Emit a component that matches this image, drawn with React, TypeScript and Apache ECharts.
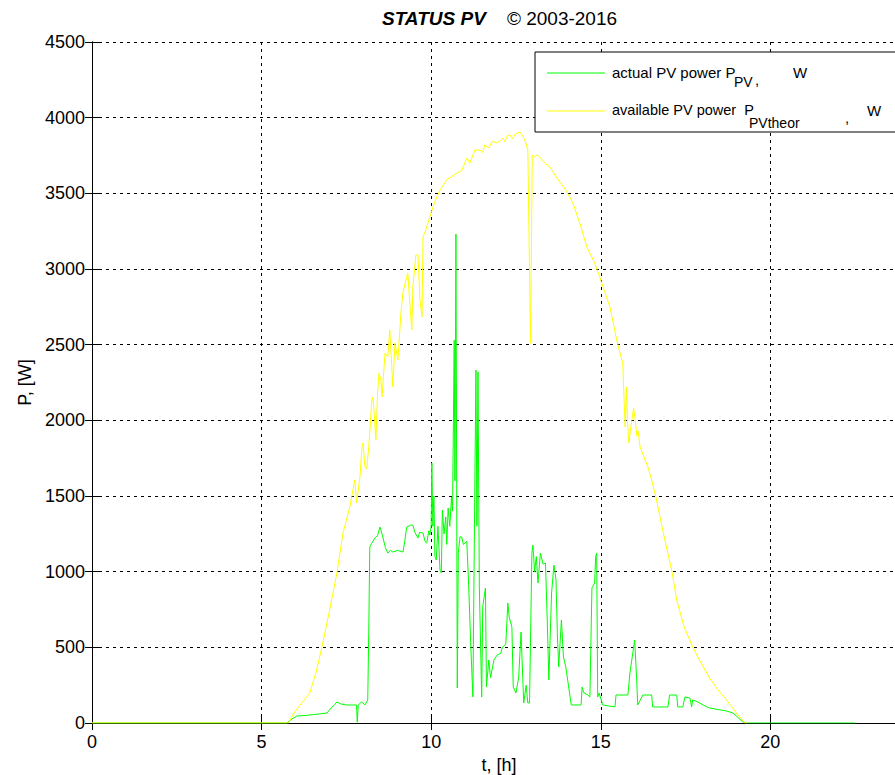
import React, { useEffect, useRef } from "react";
import * as echarts from "echarts";

// ---- data (hours, watts) ----
const availT = [
  0, 5.8, 5.92, 6.1, 6.25, 6.42, 6.6, 6.78, 7.0, 7.22, 7.4, 7.6, 7.75, 7.8, 7.9, 7.96, 7.99, 8.05, 8.1,
  8.16, 8.21, 8.25, 8.28, 8.32, 8.37, 8.42, 8.46, 8.52, 8.55, 8.64, 8.72, 8.78, 8.87, 8.93, 9.02, 9.11,
  9.17, 9.31, 9.4, 9.43, 9.46, 9.55, 9.61, 9.67, 9.73, 9.76, 9.84, 9.96, 10.1, 10.26, 10.46, 10.6,
  10.76, 10.9, 11.05, 11.14, 11.29, 11.44, 11.52, 11.58, 11.7, 11.8, 11.94, 12.05, 12.11, 12.17, 12.25,
  12.32, 12.4, 12.48, 12.55, 12.62, 12.7, 12.78, 12.85, 12.89, 12.93, 12.95, 12.98, 13.05, 13.12, 13.2,
  13.28, 13.35, 13.5, 13.6, 13.65, 13.79, 13.9, 14.0, 14.18, 14.4, 14.59, 14.8, 14.97, 15.1, 15.27,
  15.47, 15.62, 15.65, 15.68, 15.72, 15.76, 15.79, 15.83, 15.87, 15.97, 16.02, 16.06, 16.1, 16.16,
  16.39, 16.5, 16.62, 16.85, 17.1, 17.24, 17.45, 17.71, 17.95, 18.21, 18.45, 18.71, 19.0, 19.25, 19.3,
];
const availP = [
  0, 0, 53, 110, 150, 198, 330, 502, 740, 991, 1255, 1427, 1606, 1454, 1625, 1824, 1850, 1692, 1680,
  1824, 1989, 2134, 2154, 2048, 1870, 2180, 2313, 2267, 2154, 2445, 2420, 2597, 2220, 2511, 2399, 2716,
  2848, 2974, 2683, 2597, 2881, 3093, 3093, 2795, 2683, 3212, 3258, 3344, 3440, 3522, 3590, 3610,
  3634, 3650, 3733, 3700, 3786, 3786, 3770, 3820, 3800, 3845, 3833, 3850, 3866, 3842, 3880,
  3886, 3860, 3892, 3899, 3905, 3880, 3840, 3786, 3150, 2510, 3000, 3753, 3740, 3755, 3740,
  3720, 3700, 3674, 3640, 3620, 3575, 3545, 3510, 3436, 3290, 3145, 3050, 2947, 2860, 2749,
  2531, 2400, 2379, 2181, 1956, 2220, 1980, 1850, 1930, 2081, 2000, 1900, 1930, 1824,
  1692, 1606, 1500, 1250, 1000, 813, 640, 502, 400, 297, 220, 152, 66, 0, 0,
];

const actualT = [
  0, 5.75, 5.85, 6.04, 6.3, 6.5, 6.7, 6.93, 7.05, 7.15, 7.22, 7.35, 7.5, 7.7, 7.8, 7.82, 7.85, 7.95, 8.05,
  8.13, 8.16, 8.19, 8.25, 8.34, 8.42, 8.49, 8.55, 8.65, 8.72, 8.8, 8.87, 9.0, 9.17, 9.22, 9.28, 9.4,
  9.46, 9.52, 9.61, 9.66, 9.76, 9.82, 9.87, 9.93, 9.96, 10.0, 10.02, 10.05, 10.08, 10.11, 10.15, 10.2,
  10.26, 10.3, 10.33, 10.38, 10.43, 10.46, 10.5, 10.55, 10.6, 10.63, 10.68, 10.7, 10.73, 10.77, 10.8,
  10.85, 10.9, 10.95, 11.05, 11.1, 11.17, 11.23, 11.28, 11.32, 11.35, 11.38, 11.42, 11.49, 11.52, 11.6,
  11.63, 11.7, 11.75, 11.85, 11.95, 12.05, 12.1, 12.2, 12.26, 12.3, 12.38, 12.42, 12.5, 12.58, 12.65,
  12.7, 12.73, 12.8, 12.85, 12.9, 12.97, 13.0, 13.05, 13.1, 13.15, 13.22, 13.3, 13.37, 13.42, 13.47,
  13.55, 13.62, 13.68, 13.72, 13.76, 13.84, 13.9, 13.97, 14.13, 14.3, 14.42, 14.45, 14.5, 14.62, 14.68,
  14.74, 14.82, 14.85, 14.88, 14.91, 14.95, 15.06, 15.42, 15.45, 15.56, 15.8, 15.86, 16.0, 16.06, 16.09,
  16.24, 16.5, 16.53, 16.98, 17.03, 17.24, 17.27, 17.42, 17.48, 17.63, 17.68, 17.71, 17.86, 18.13,
  18.21, 18.71, 18.9, 19.19, 19.3, 22.5,
];
const actualP = [
  0, 0, 20, 46, 50, 55, 60, 66, 100, 120, 139, 125, 119, 119, 119, 5, 119, 139, 120,
  152, 600, 1163, 1189, 1222, 1240, 1295, 1250, 1160, 1123, 1140, 1130, 1140, 1130, 1200, 1295, 1308,
  1308, 1260, 1222, 1260, 1255, 1200, 1189, 1270, 1242, 1300, 1718, 1300, 1500, 1100, 1077, 1300,
  1011, 991, 1407, 1250, 1361, 1180, 1420, 1300, 1493, 1400, 2530, 1600, 3231, 231, 1123,
  1230, 1229, 1180, 1200, 945, 500, 172, 1388, 2333, 1300, 2320, 900, 172, 767, 892,
  238, 416, 300, 416, 450, 460, 502, 520, 793, 700, 634, 238, 198, 300, 601,
  300, 132, 250, 132, 132, 1123, 1176, 1000, 1100, 925, 1123, 1050, 1057, 700, 284,
  859, 1044, 950, 593, 370, 681, 436, 370, 119, 119, 119, 238, 200, 185, 172,
  892, 925, 1100, 1123, 172, 198, 119, 106, 185, 185, 185, 330, 548, 284, 119,
  185, 185, 106, 106, 185, 185, 106, 106, 172, 165, 106, 152, 139, 106,
  99, 79, 66, 7, 0, 0,
];

const xTicks = { min: 0, max: 24, interval: 5 };
const yTicks = { min: 0, max: 4500, interval: 500 };
const titleMain = "STATUS PV";
const titleSub = "© 2003-2016";
const xName = "t, [h]";
const yName = "P, [W]";
const legend1 = { text: "actual PV power P", sub: "PV", tail: "W" };
const legend2 = { text: "available PV power  P", sub: "PVtheor", tail: "W" };

const FONT = "Liberation Sans, Arial, sans-serif";

export default function App() {
  const ref = useRef<HTMLDivElement>(null);
  useEffect(() => {
    if (!ref.current) return;
    const chart = echarts.init(ref.current, null, { renderer: "svg" });
    const gridLine = { show: true, lineStyle: { color: "#000", type: [3, 4] as any, width: 1 } };
    const axLine = { show: true, lineStyle: { color: "#000", width: 1 } };
    const tick = { show: true, inside: true, length: 7, lineStyle: { color: "#000" } };
    const lbl = { color: "#000", fontFamily: FONT, fontSize: 18 };
    const lg = (x: number, y: number, text: string, size: number) => ({
      type: "text", x, y, z: 101,
      style: { text, font: `${size}px ${FONT}`, fill: "#000", verticalAlign: "middle" },
    });
    chart.setOption({
      animation: false,
      backgroundColor: "#fff",
      grid: { left: 92, top: 42, width: 814, height: 681, show: false, containLabel: false, outerBoundsMode: "none" },
      xAxis: [
        {
          type: "value", ...xTicks, position: "bottom",
          axisLine: axLine, axisTick: tick, splitLine: gridLine,
          axisLabel: { ...lbl, margin: 10, showMaxLabel: false },
          name: xName, nameLocation: "middle", nameGap: 32,
          nameTextStyle: { color: "#000", fontFamily: FONT, fontSize: 18 },
        },
        {
          type: "value", ...xTicks, position: "top",
          axisLine: axLine, axisTick: tick, splitLine: { show: false },
          axisLabel: { show: false },
        },
      ],
      yAxis: [
        {
          type: "value", ...yTicks, position: "left",
          axisLine: axLine, axisTick: tick, splitLine: gridLine,
          axisLabel: { ...lbl, margin: 7, formatter: (v: number) => String(v) },
          name: yName, nameLocation: "middle", nameGap: 58, nameRotate: 90,
          nameTextStyle: { color: "#000", fontFamily: FONT, fontSize: 18 },
        },
        {
          type: "value", ...yTicks, position: "right",
          axisLine: axLine, axisTick: tick, splitLine: { show: false },
          axisLabel: { show: false },
        },
      ],
      series: [
        {
          type: "line", name: "actual", showSymbol: false, silent: true,
          lineStyle: { color: "#00ff00", width: 1 },
          data: actualT.map((t, i) => [t, actualP[i]]),
        },
        {
          type: "line", name: "available", showSymbol: false, silent: true,
          lineStyle: { color: "#ffff00", width: 1 },
          data: availT.map((t, i) => [t, availP[i]]),
        },
      ],
      graphic: [
        {
          type: "text", x: 382, y: 18,
          style: {
            text: `{a|${titleMain}}{b|    ${titleSub}}`,
            verticalAlign: "middle",
            rich: {
              a: { fontFamily: FONT, fontSize: 19, fontWeight: "bold", fontStyle: "italic", fill: "#000" },
              b: { fontFamily: FONT, fontSize: 19, fill: "#000" },
            },
          },
        },
        {
          type: "rect", shape: { x: 535, y: 52, width: 420, height: 80 },
          style: { fill: "#fff", stroke: "#000", lineWidth: 1 }, z: 100,
        },
        { type: "line", shape: { x1: 547, y1: 73, x2: 605, y2: 73 }, style: { stroke: "#00ff00", lineWidth: 1 }, z: 101 },
        { type: "line", shape: { x1: 547, y1: 111, x2: 605, y2: 111 }, style: { stroke: "#ffff00", lineWidth: 1 }, z: 101 },
        lg(612, 72, legend1.text, 15),
        lg(734, 82, legend1.sub, 14),
        lg(755, 79, ",", 15),
        lg(793, 72, legend1.tail, 15),
        lg(612, 110, legend2.text, 14.5),
        lg(749, 123, legend2.sub, 14),
        lg(845, 117, ",", 15),
        lg(867, 110, legend2.tail, 15),
      ],
    });
    return () => chart.dispose();
  }, []);
  return (
    <div style={{ position: "fixed", left: 0, top: 0, width: 895, height: 775, overflow: "hidden", background: "#fff" }}>
      <div ref={ref} style={{ width: 930, height: 775 }} />
    </div>
  );
}
